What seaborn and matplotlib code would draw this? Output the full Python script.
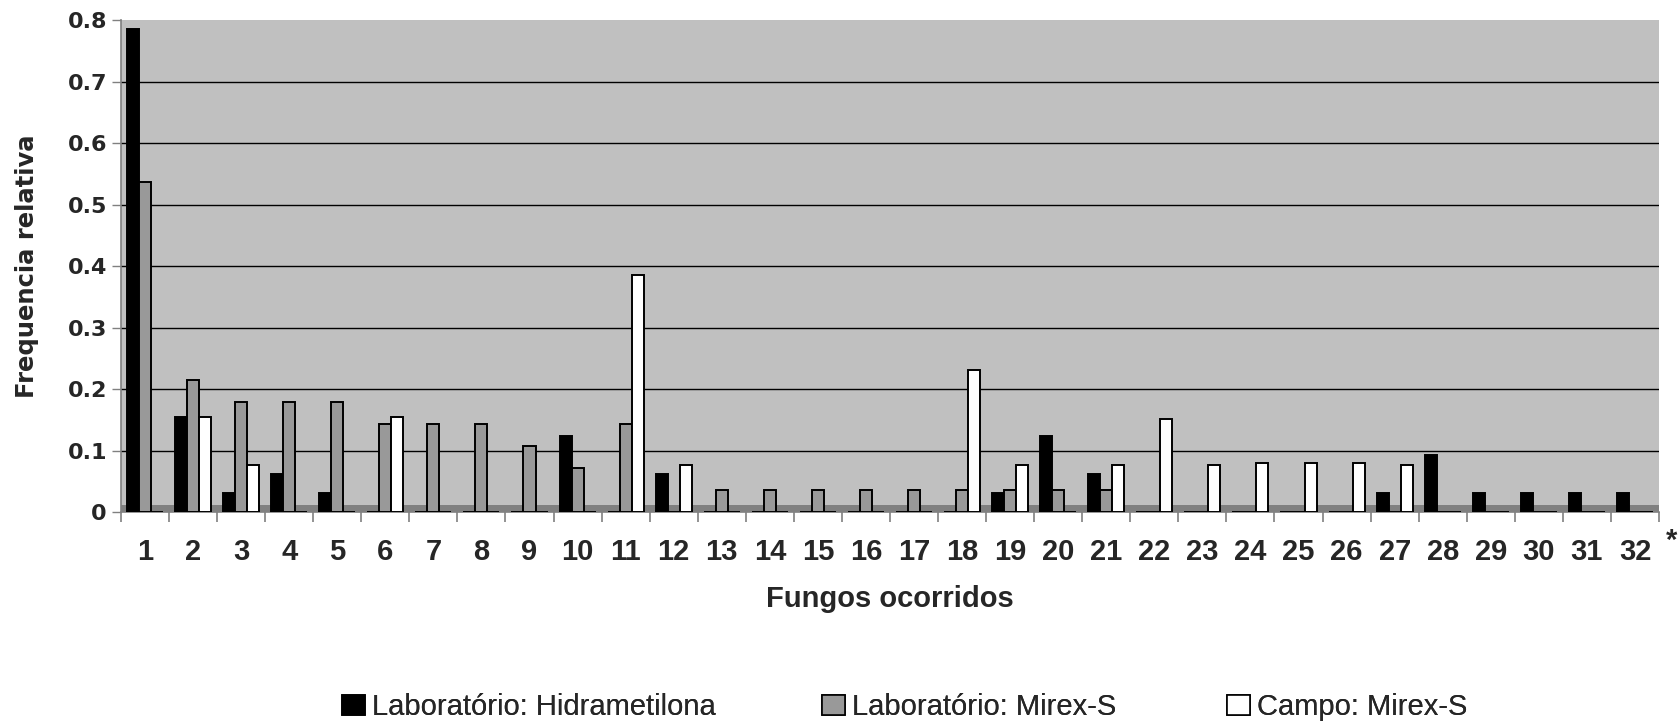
import matplotlib
matplotlib.use("Agg")
import matplotlib.pyplot as plt
import seaborn as sns
import pandas as pd
import numpy as np
from matplotlib.patches import Patch
from matplotlib.ticker import FuncFormatter, FixedLocator

fungos = [str(i) for i in range(1, 33)]
lab_hidrametilona = [0.785, 0.154, 0.031, 0.062, 0.031, 0, 0, 0, 0, 0.123, 0, 0.062,
                     0, 0, 0, 0, 0, 0, 0.031, 0.123, 0.062, 0, 0, 0,
                     0, 0, 0.031, 0.092, 0.031, 0.031, 0.031, 0.031]
lab_mirex = [0.536, 0.214, 0.179, 0.179, 0.179, 0.143, 0.143, 0.143, 0.107, 0.071, 0.143, 0,
             0.036, 0.036, 0.036, 0.036, 0.036, 0.036, 0.036, 0.036, 0.036, 0, 0, 0,
             0, 0, 0, 0, 0, 0, 0, 0]
campo_mirex = [0, 0.154, 0.077, 0, 0, 0.154, 0, 0, 0, 0, 0.385, 0.077,
               0, 0, 0, 0, 0, 0.231, 0.077, 0, 0.077, 0.152, 0.077, 0.08,
               0.08, 0.08, 0.077, 0, 0, 0, 0, 0]
series_names = ["Laboratório: Hidrametilona", "Laboratório: Mirex-S", "Campo: Mirex-S"]
colors = ["#000000", "#999999", "#FFFFFF"]
y_ticks = [0, 0.1, 0.2, 0.3, 0.4, 0.5, 0.6, 0.7, 0.8]

df = pd.DataFrame({
    "Fungo": fungos * 3,
    "Serie": np.repeat(series_names, len(fungos)),
    "Valor": lab_hidrametilona + lab_mirex + campo_mirex,
})

sns.set_theme(style="white")
plt.rcParams["font.family"] = ["Liberation Sans", "DejaVu Sans"]

fig = plt.figure(figsize=(16.8, 7.23), dpi=100)
ax = fig.add_axes([0.0720, 0.2918, 0.9155, 0.6805])
ax.set_facecolor("#C0C0C0")

# floor of the chart
ax.axhspan(0, 0.0115, color="#808080", zorder=1, lw=0)
for g in y_ticks[1:-1]:
    ax.axhline(g, color="black", linewidth=1.0, zorder=1.5)

sns.barplot(data=df, x="Fungo", y="Valor", hue="Serie", order=fungos,
            hue_order=series_names, palette=colors, edgecolor="black",
            linewidth=1.4, width=0.75, ax=ax, legend=False, zorder=3)

ax.set_ylim(0, 0.8)
ax.set_xlim(-0.5, 31.5)
ax.set_yticks(y_ticks)
ax.yaxis.set_major_formatter(FuncFormatter(lambda v, p: "0" if abs(v) < 1e-9 else f"{v:.1f}"))
ax.grid(False)
for s in ["top", "right"]:
    ax.spines[s].set_visible(False)
ax.spines["left"].set_color("#808080")
ax.spines["bottom"].set_color("#808080")
ax.spines["left"].set_linewidth(1.2)
ax.spines["bottom"].set_linewidth(1.2)

ax.tick_params(axis="y", which="major", direction="out", length=6.5, width=1, color="#808080",
               pad=3.6, left=True)
ax.tick_params(axis="x", which="major", length=0, pad=18.5)
ax.xaxis.set_minor_locator(FixedLocator(np.arange(-0.5, 32, 1)))
ax.tick_params(axis="x", which="minor", direction="out", length=7.5, width=1.2, color="#808080", bottom=True)
for lbl in ax.get_xticklabels():
    lbl.set_fontweight("bold")
    lbl.set_fontsize(21)
for lbl in ax.get_yticklabels():
    lbl.set_fontweight("bold")
    lbl.set_fontsize(16)
    lbl.set_family(["DejaVu Sans"])

ax.set_xlabel("Fungos ocorridos", fontsize=21, fontweight="bold")
ax.xaxis.set_label_coords(0.5, -0.1768)
ax.xaxis.label.set_va("center")
ax.set_ylabel("Frequencia relativa", fontsize=17.5, fontweight="bold", family=["DejaVu Sans"])
ax.yaxis.set_label_coords(-0.0608, 0.5)
ax.yaxis.label.set_va("center")

fig.text(0.9952, 0.2517, "*", fontsize=21, fontweight="bold", ha="center", va="center")

handles = [Patch(facecolor=c, edgecolor="black", linewidth=1.2) for c in colors]
legend_x = [342 / 1680, 822 / 1680, 1227 / 1680]
for h, name, lx in zip(handles, series_names, legend_x):
    leg = fig.legend([h], [name], loc="center left", bbox_to_anchor=(lx, 1 - 707 / 723),
                     frameon=False, fontsize=21, handlelength=0.78, handleheight=0.7,
                     handletextpad=0.25, borderpad=0, borderaxespad=0)
    fig.add_artist(leg)

fig.savefig("out.png", dpi=100)
